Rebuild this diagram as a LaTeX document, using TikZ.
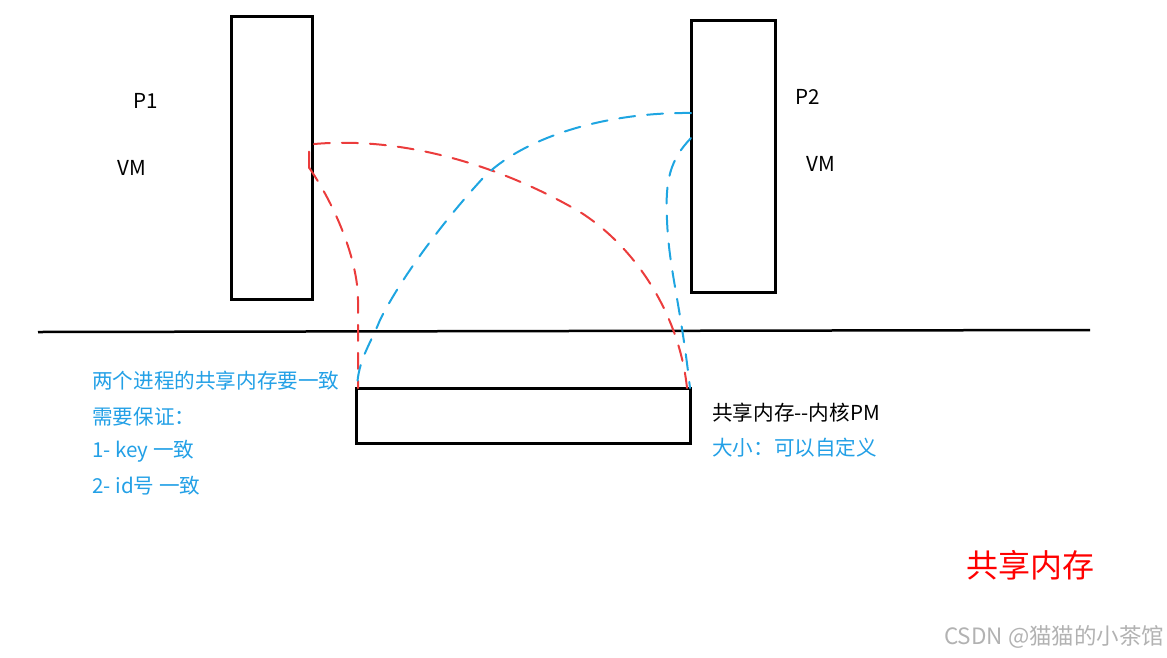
\documentclass[tikz,border=0pt]{standalone}
\usepackage{fontspec}
\setmainfont{Noto Sans CJK SC}
\usetikzlibrary{positioning}

\definecolor{penred}{RGB}{235,60,60}
\definecolor{penblue}{RGB}{30,165,225}
\definecolor{noteblue}{RGB}{35,160,230}

\tikzset{
  box/.style={draw, line width=3pt, outer sep=0pt, inner sep=0pt},
  txt/.style={inner sep=0pt, anchor=west, font=\fontsize{20.6}{24}\selectfont},
  link/.style={line width=2pt, dash pattern=on 16pt off 12pt, line cap=round},
}

\begin{document}
\begin{tikzpicture}[x=1pt, y=-1pt]
  \useasboundingbox (0,0) rectangle (1167,657);

  % Process boxes and the shared memory block
  \node[box, minimum width=81pt, minimum height=283pt] (p1) at (271.5,157.5) {};
  \node[box, minimum width=84pt, minimum height=272pt] (p2) at (733,156) {};
  \node[box, minimum width=334pt, minimum height=55pt] (mem) at (523,415.5) {};

  % Border between user space and kernel
  \coordinate (floorL) at (38,332);
  \coordinate (floorR) at (1090,330);
  \draw[line width=2.5pt] (floorL) -- (floorR);

  % Labels of the processes
  \node[txt, anchor=center] (p1name) at (146,101) {P1};
  \node[txt, anchor=center] (p1vm) at (132,168) {VM};
  \node[txt, anchor=center] (p2name) at (808,97) {P2};
  \node[txt, anchor=center] (p2vm) at (821,164) {VM};

  % P1 mapping (red)
  \coordinate (r0) at ([xshift=-3pt,yshift=-10pt]p1.east);
  \draw[link, penred] (r0) -- ++(0,-23) .. controls (400,135) and (500,165) .. (580,212)
    .. controls (640,250) and (680,320) .. ([xshift=-3pt]mem.north east);
  \draw[link, penred] (r0) .. controls (335,205) and (358,260) .. (358,300)
    -- ([xshift=2pt]mem.north west);

  % P2 mapping (blue)
  \draw[link, penblue] ([yshift=43pt]p2.west) .. controls (600,112) and (520,140) .. (483,178)
    .. controls (440,225) and (400,280) .. (380,320)
    .. controls (370,345) and (358,360) .. ([xshift=1pt]mem.north west);
  \draw[link, penblue] ([yshift=18pt]p2.west) .. controls (670,160) and (665,180) .. (667,220)
    .. controls (669,270) and (680,300) .. (mem.north east);

  % Notes
  \node[txt, noteblue] (note1) at (92,381) {两个进程的共享内存要一致};
  \node[txt, noteblue] (note2) at (92,417) {需要保证：};
  \node[txt, noteblue] (note3) at (92,451) {1- key 一致};
  \node[txt, noteblue] (note4) at (92,486) {2- id号 一致};

  \node[txt] (memname) at (712,413) {共享内存{-}{-}内核PM};
  \node[txt, noteblue] (memsize) at (712,448) {大小：可以自定义};

  \node[txt, red, font=\fontsize{32}{38}\selectfont] (title) at (966,565) {共享内存};
  \node[txt, gray!60, font=\fontsize{22.5}{26}\selectfont] (mark) at (944,637) {CSDN @猫猫的小茶馆};
\end{tikzpicture}
\end{document}
